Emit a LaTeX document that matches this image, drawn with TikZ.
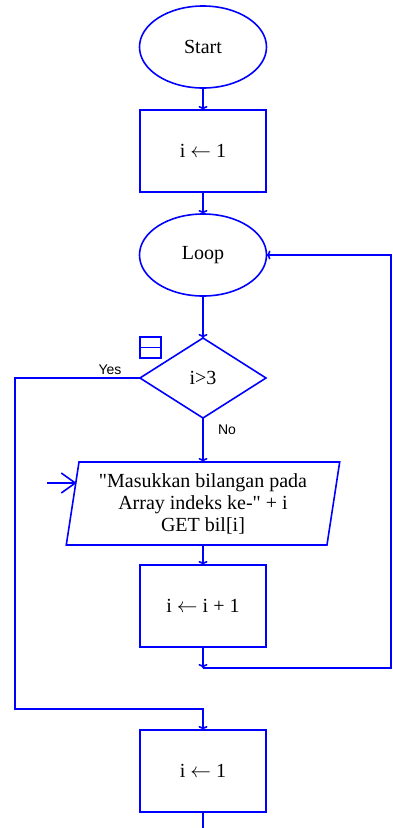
\documentclass[tikz,border=0pt]{standalone}
\usepackage{fontspec}
\setmainfont{Liberation Serif}
\newfontfamily\yesnofont{Liberation Sans}
\usepackage{tikz}
\usetikzlibrary{arrows.meta,positioning,calc,shapes.geometric}
\definecolor{flowblue}{RGB}{0,0,255}

\begin{document}
\begin{tikzpicture}[x=1pt,y=1pt,>={To[length=4pt,width=9pt]},
  font=\fontsize{20}{22}\selectfont,
  base/.style={draw=flowblue,line width=1.6pt,inner sep=0pt,outer sep=0pt,align=center},
  term/.style={base,ellipse,minimum width=127pt,minimum height=82pt},
  proc/.style={base,rectangle,minimum width=126pt,minimum height=82pt},
  decide/.style={base,diamond,minimum width=126pt,minimum height=80pt},
  io/.style={base,trapezium,trapezium left angle=80,trapezium right angle=100,
    trapezium stretches=true,minimum width=274pt,minimum height=83pt},
  flow/.style={draw=flowblue,line width=1.6pt,->},
  bigarrow/.style={draw=flowblue,line width=1.6pt,-{Straight Barb[length=14pt,width=20pt]}},
  lab/.style={font=\yesnofont\fontsize{14}{16}\selectfont}]
\useasboundingbox (0,0) rectangle (393,-828);
\node[term] (start) at (203,-47) {Start};
\node[proc,below=22pt of start] (init) {i $\leftarrow$ 1};
\node[term,below=22pt of init] (loop) {Loop};
\node[decide,below=42pt of loop] (check) {i>3};
\node[io,below=44pt of check] (input) {\textquotedbl Masukkan bilangan pada\\ Array indeks ke-\textquotedbl{} + i\\ GET bil[i]};
\node[proc,below=20pt of input] (incr) {i $\leftarrow$ i + 1};
\node[proc,below=83pt of incr] (reset) {i $\leftarrow$ 1};
% small marker beside the decision
\node[draw=flowblue,line width=1.4pt,minimum size=21pt,inner sep=0pt] (mark) at (150.5,-347.5) {};
\draw[draw=flowblue,line width=1.4pt] (mark.west) -- (mark.east);
\node[lab] (yes) at (110,-370) {Yes};
\node[lab] (no) at (227,-430) {No};
\coordinate (inlet) at (47,-483);
\coordinate (join) at (203,-668);
\coordinate (back) at (391,-668);
\coordinate (yesdown) at (15,-709);
\coordinate (exit) at (203,-828);
\draw[flow] (start) -- (init);
\draw[flow] (init) -- (loop);
\draw[flow] (loop) -- (check);
\draw[flow] (check) -- (input);
\draw[flow] (input) -- (incr);
\draw[flow] (incr) -- (join);
\draw[flow] (join) -- (back) |- (loop.east);
\draw[flow] (check.west) -| (yesdown) -| (reset.north);
\draw[draw=flowblue,line width=1.6pt] (reset) -- (exit);
\draw[bigarrow] (inlet) -- ($(inlet -| input.west)+(4,0)$);
\end{tikzpicture}
\end{document}
